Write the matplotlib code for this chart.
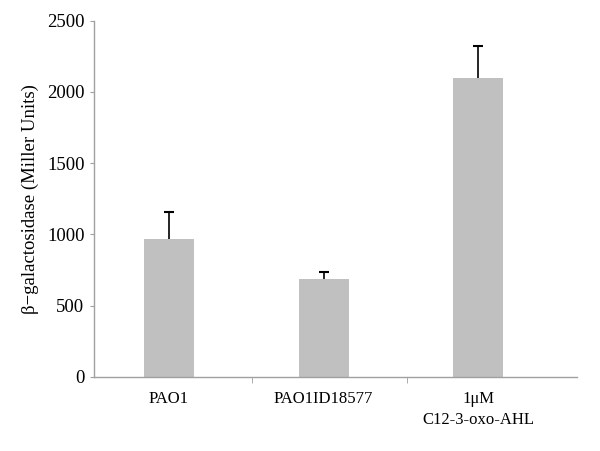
import matplotlib
matplotlib.use("Agg")
import matplotlib.pyplot as plt
from matplotlib.ticker import FixedLocator

categories = ["PAO1", "PAO1ID18577", "1\u03bcM\nC12-3-oxo-AHL"]
values = [965, 685, 2100]
errors = [190, 50, 225]
y_ticks = [0, 500, 1000, 1500, 2000, 2500]

plt.rcParams['font.family'] = ['Liberation Serif', 'DejaVu Serif']

fig = plt.figure(figsize=(6.0, 4.51), dpi=100)
ax = fig.add_axes([0.157, 0.1647, 0.805, 0.7893])

x = list(range(len(categories)))
ax.bar(x, values, width=0.324, color="#c0c0c0", zorder=2)
ax.errorbar(x, values, yerr=[[0] * len(errors), errors], fmt="none",
            ecolor="black", elinewidth=1.2, capsize=0, zorder=3)
tops = [v + e for v, e in zip(values, errors)]
ax.plot(x, tops, linestyle="none", marker="_", markersize=7,
        markeredgewidth=1.5, color="black", zorder=3)

ax.set_xlim(-0.483, 2.64)
ax.set_ylim(0, 2500)
ax.set_yticks(y_ticks)
ax.set_yticklabels([str(t) for t in y_ticks], fontsize=13.5)
ax.set_xticks(x)
ax.set_xticklabels(categories, fontsize=12, linespacing=1.45)
ax.tick_params(axis="x", which="major", length=0, pad=10)
ax.xaxis.set_minor_locator(FixedLocator([0.54, 1.54]))
ax.tick_params(axis="x", which="minor", length=4, color="#a0a0a0", direction="out")
ax.tick_params(axis="y", length=3, color="#a0a0a0", direction="out", pad=4)

for s in ["top", "right"]:
    ax.spines[s].set_visible(False)
for s in ["left", "bottom"]:
    ax.spines[s].set_color("#a0a0a0")
    ax.spines[s].set_linewidth(1.0)

ax.set_ylabel("\u03b2\u2212galactosidase (Miller Units)", fontsize=13.5)
ax.yaxis.set_label_coords(-0.115, 0.5)

fig.savefig("out.png", dpi=100)
